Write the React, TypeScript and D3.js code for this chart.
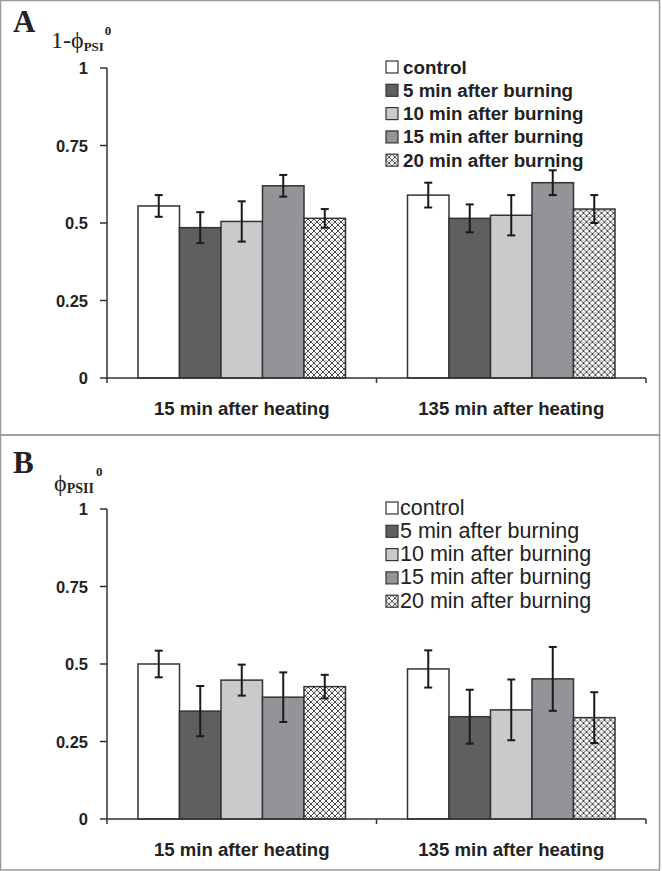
import React from 'react';
import * as d3 from 'd3';

const groups = ['15 min after heating', '135 min after heating'];
const series = ['control', '5 min after burning', '10 min after burning', '15 min after burning', '20 min after burning'];
const fills = ['#ffffff', '#5e5f61', '#c9cacc', '#939497', 'url(#hatch)'];
const yTicks = [0, 0.25, 0.5, 0.75, 1];
const yTickLabels = ['0', '0.25', '0.5', '0.75', '1'];

// panel A: 1 - phi PSI
const psiMeans = [
  [0.555, 0.485, 0.505, 0.62, 0.515],
  [0.59, 0.515, 0.525, 0.63, 0.545],
];
const psiErr = [
  [0.035, 0.05, 0.065, 0.035, 0.03],
  [0.04, 0.045, 0.065, 0.04, 0.045],
];

// panel B: phi PSII
const psiiMeans = [
  [0.5, 0.348, 0.448, 0.393, 0.427],
  [0.484, 0.33, 0.352, 0.452, 0.327],
];
const psiiErr = [
  [0.043, 0.081, 0.05, 0.08, 0.038],
  [0.06, 0.087, 0.098, 0.103, 0.082],
];

const sans = '"Liberation Sans", Arial, sans-serif';
const serif = '"Liberation Serif", "Times New Roman", serif';

interface PanelProps {
  top: number;
  letter: string;
  means: number[][];
  errs: number[][];
  boldLegend: boolean;
  yLabel: React.ReactNode;
}

const Panel: React.FC<PanelProps> = ({ top, letter, means, errs, boldLegend, yLabel }) => {
  const y = d3.scaleLinear().domain([0, 1]).range([top + 378, top + 68]);
  const x0 = d3.scaleBand().domain(groups).range([107, 646]);
  const x1 = d3.scaleBand().domain(series).range([31, x0.bandwidth() - 31]);
  const bw = x1.bandwidth();
  const axisColor = '#333';

  return (
    <g>
      <text x={13} y={top + 32} fontFamily={serif} fontWeight="bold" fontSize={31} fill="#222">{letter}</text>
      {yLabel}

      {/* bars */}
      {groups.map((g, gi) => (
        <g key={g} transform={`translate(${x0(g)},0)`}>
          {series.map((s, si) => {
            const v = means[gi][si];
            const e = errs[gi][si];
            const cx = (x1(s) as number) + bw / 2;
            return (
              <g key={s}>
                <rect x={x1(s)} y={y(v)} width={bw} height={y(0) - y(v)}
                  fill={fills[si]} stroke="#333" strokeWidth={1.5} />
                <line x1={cx} x2={cx} y1={y(v + e)} y2={y(v - e)} stroke="#1a1a1a" strokeWidth={2} />
                <line x1={cx - 4} x2={cx + 4} y1={y(v + e)} y2={y(v + e)} stroke="#1a1a1a" strokeWidth={2} />
                <line x1={cx - 4} x2={cx + 4} y1={y(v - e)} y2={y(v - e)} stroke="#1a1a1a" strokeWidth={2} />
              </g>
            );
          })}
        </g>
      ))}

      {/* y axis */}
      <line x1={107} x2={107} y1={y(1)} y2={y(0)} stroke={axisColor} strokeWidth={1.5} />
      {yTicks.map((t, i) => (
        <g key={t}>
          <line x1={100} x2={107} y1={y(t)} y2={y(t)} stroke={axisColor} strokeWidth={1.5} />
          <text x={88} y={y(t) + 6} textAnchor="end" fontFamily={sans} fontWeight="bold" fontSize={16.5} fill="#222">
            {yTickLabels[i]}
          </text>
        </g>
      ))}

      {/* x axis */}
      <line x1={107} x2={646} y1={y(0)} y2={y(0)} stroke={axisColor} strokeWidth={1.5} />
      {[107, ...groups.map(g => (x0(g) as number) + x0.bandwidth())].map(px => (
        <line key={px} x1={px} x2={px} y1={y(0)} y2={y(0) + 5} stroke={axisColor} strokeWidth={1.5} />
      ))}
      {groups.map(g => (
        <text key={g} x={(x0(g) as number) + x0.bandwidth() / 2} y={y(0) + 37} textAnchor="middle"
          fontFamily={sans} fontWeight="bold" fontSize={18.6} fill="#222">{g}</text>
      ))}

      {/* legend */}
      {series.map((s, i) => (
        <g key={s} transform={`translate(386,${top + 61 + i * 23.3})`}>
          <rect x={0} y={0} width={12} height={12} fill={fills[i]} stroke="#333" strokeWidth={1.2} />
          <text x={boldLegend ? 17 : 14} y={12.5} fontFamily={sans} fontWeight={boldLegend ? 'bold' : 'normal'}
            fontSize={boldLegend ? 18.8 : 21.5} fill="#222">{s}</text>
        </g>
      ))}
    </g>
  );
};

const App: React.FC = () => {
  const labelA = (
    <text x={51} y={48} fontFamily={serif} fill="#222">
      <tspan fontSize={24}>1-ϕ</tspan>
      <tspan fontSize={13} fontWeight="bold" dy={3}>PSI</tspan>
      <tspan fontSize={13} fontWeight="bold" dx={1} dy={-16}>0</tspan>
    </text>
  );
  const labelB = (
    <text x={54} y={441 + 50} fontFamily={serif} fill="#222">
      <tspan fontSize={24}>ϕ</tspan>
      <tspan fontSize={14} fontWeight="bold" dy={2}>PSII</tspan>
      <tspan fontSize={13} fontWeight="bold" dx={2} dy={-17}>0</tspan>
    </text>
  );

  return (
    <svg width={662} height={871} style={{ position: 'absolute', left: 0, top: 0, background: '#fff' }}>
      <defs>
        <pattern id="hatch" width={6} height={6} patternUnits="userSpaceOnUse">
          <rect width={6} height={6} fill="#fff" />
          <path d="M0,0 L6,6 M6,0 L0,6" stroke="#333" strokeWidth={0.9} />
          <rect x={2.5} y={0} width={1} height={1} fill="#888" />
        </pattern>
      </defs>
      <rect x={0.5} y={0.5} width={659} height={434.5} fill="none" stroke="#999" strokeWidth={1.5} />
      <rect x={0.5} y={435} width={659} height={435} fill="none" stroke="#999" strokeWidth={1.5} />
      <Panel top={0} letter="A" means={psiMeans} errs={psiErr} boldLegend={true} yLabel={labelA} />
      <Panel top={441} letter="B" means={psiiMeans} errs={psiiErr} boldLegend={false} yLabel={labelB} />
    </svg>
  );
};

export default App;
